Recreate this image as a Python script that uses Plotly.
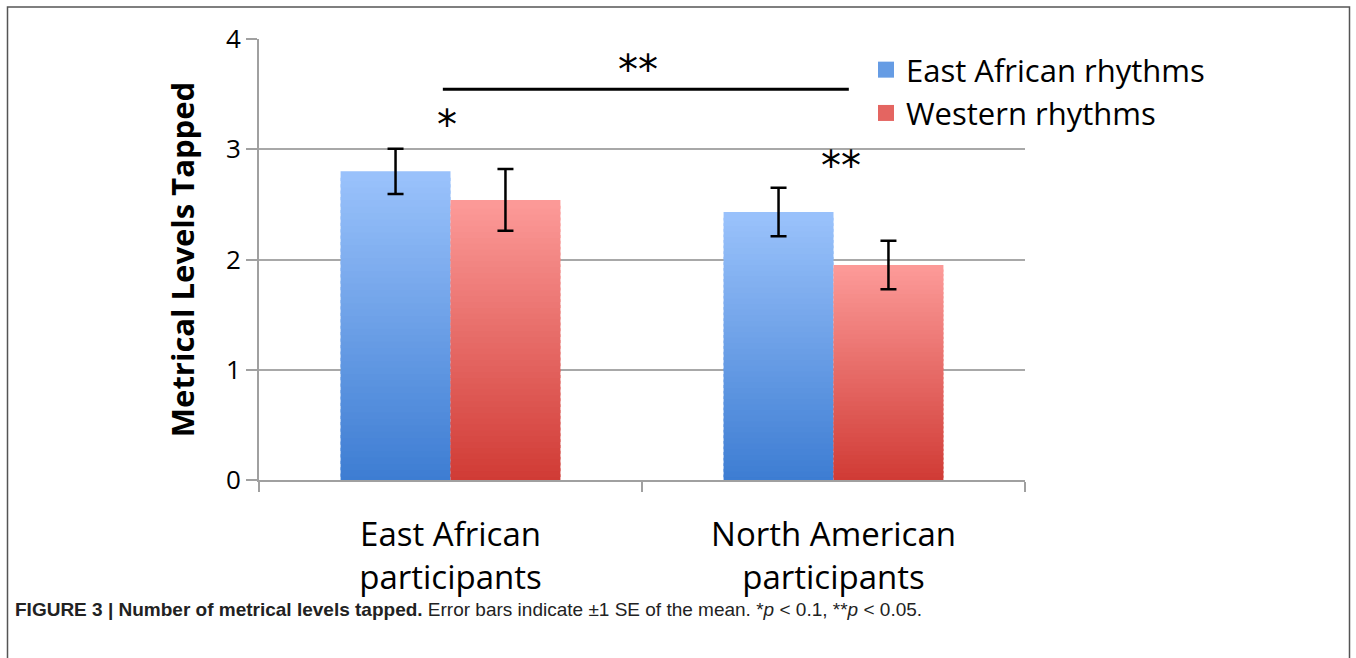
import plotly.graph_objects as go

# ---------------- data ----------------
categories = ["East African<br>participants", "North American<br>participants"]
series_names = ["East African rhythms", "Western rhythms"]
east_african_rhythms = [2.80, 2.43]
western_rhythms = [2.54, 1.95]
east_african_se = [0.205, 0.22]
western_se = [0.28, 0.22]
y_ticks = [0, 1, 2, 3, 4]

# significance markers (category-axis position, value)
sig_line = {"x0": -0.02, "x1": 1.04, "y": 3.545}
sig_labels = [("**", 0.49, 3.72), ("*", -0.01, 3.22), ("**", 1.02, 2.85)]

caption = ("<b>FIGURE 3 | Number of metrical levels tapped.</b> Error bars indicate \u00b11 SE of the mean. "
           "*<i>p</i> &lt; 0.1, **<i>p</i> &lt; 0.05.")

# ---------------- style ----------------
W, H = 1356, 658
L, R, T, B = 259, 331, 39, 178
PW, PH = W - L - R, H - T - B

def px2paper_x(px):
    return (px - L) / PW

def px2paper_y(py):
    return (H - B - py) / PH

blue_top, blue_bot = (154, 194, 251), (60, 124, 210)
red_top, red_bot = (252, 154, 152), (208, 58, 52)
N = 48
FONT = "Open Sans"

def lerp(c0, c1, t):
    return "rgb(%d,%d,%d)" % tuple(round(a + (b - a) * t) for a, b in zip(c0, c1))

fig = go.Figure()

for name, vals, se, top, bot in [
    (series_names[0], east_african_rhythms, east_african_se, blue_top, blue_bot),
    (series_names[1], western_rhythms, western_se, red_top, red_bot),
]:
    for i in range(N):
        t = (i + 0.5) / N
        lo = max(i - 0.5, 0)
        fig.add_trace(go.Bar(
            x=categories, y=[v * (i + 1 - lo) / N for v in vals], base=[v * lo / N for v in vals],
            offsetgroup=name, marker=dict(color=lerp(bot, top, t), line=dict(width=0)),
            showlegend=False, hoverinfo="skip",
        ))
    # error bars
    fig.add_trace(go.Bar(
        x=categories, y=vals, offsetgroup=name, name=name,
        marker=dict(color="rgba(0,0,0,0)", line=dict(width=0)), showlegend=False,
        error_y=dict(type="data", array=se, visible=True, color="black", thickness=2.5, width=8),
    ))
    # legend swatch
    fig.add_trace(go.Scatter(
        x=[None], y=[None], mode="markers", name=name,
        marker=dict(symbol="square", size=20, color=lerp(bot, top, 0.45)),
    ))

fig.update_layout(
    width=W, height=H,
    margin=dict(l=L, r=R, t=T, b=B, autoexpand=False),
    paper_bgcolor="white", plot_bgcolor="white",
    barmode="group", bargap=0.426, bargroupgap=0,
    font=dict(family=FONT, color="black"),
    showlegend=True,
    legend=dict(x=px2paper_x(866), y=px2paper_y(43), xanchor="left", yanchor="top",
                font=dict(size=31, family=FONT, color="black"), bgcolor="rgba(0,0,0,0)",
                itemsizing="trace", tracegroupgap=0),
)

fig.update_xaxes(
    range=[-0.5, 1.5], showline=True, linecolor="#a0a0a0", linewidth=2,
    ticks="outside", tickson="boundaries", ticklen=10, tickcolor="#a0a0a0", tickwidth=2,
    tickfont=dict(size=33, family=FONT, color="black"), ticklabelstandoff=24,
    showgrid=False, zeroline=False, fixedrange=True,
)
fig.update_yaxes(
    range=[0, 4], tickvals=y_ticks, showline=True, linecolor="#a0a0a0", linewidth=2,
    ticks="outside", ticklen=11, tickcolor="#a0a0a0", tickwidth=2,
    tickfont=dict(size=26, family=FONT, color="black"), ticklabelstandoff=0,
    showgrid=True, gridcolor="#a8a8a8", gridwidth=2, zeroline=False,
    title=dict(text="<b>Metrical Levels Tapped</b>", font=dict(size=31, family=FONT, color="black"),
               standoff=22),
)

# significance line
fig.add_shape(type="line", xref="x", yref="y", x0=sig_line["x0"], x1=sig_line["x1"],
              y0=sig_line["y"], y1=sig_line["y"], line=dict(color="black", width=3))
for txt, xv, yv in sig_labels:
    fig.add_annotation(x=xv, y=yv, xref="x", yref="y", text=txt, showarrow=False,
                       font=dict(size=40, family="DejaVu Sans", color="black"))

# caption
fig.add_annotation(x=px2paper_x(13), y=px2paper_y(609), xref="paper", yref="paper",
                   xanchor="left", yanchor="middle", text=caption, showarrow=False,
                   font=dict(size=19, family="Liberation Sans, Arial", color="#222"))

# outer frame
fig.add_shape(type="rect", xref="paper", yref="paper",
              x0=px2paper_x(7.5), x1=px2paper_x(1349.5), y0=px2paper_y(668), y1=px2paper_y(7),
              line=dict(color="#555555", width=1.5), fillcolor="rgba(0,0,0,0)", layer="below")

fig.write_html("out.html", config={"displayModeBar": False},
               post_script="document.body.style.margin='0';document.body.style.overflow='hidden';")
